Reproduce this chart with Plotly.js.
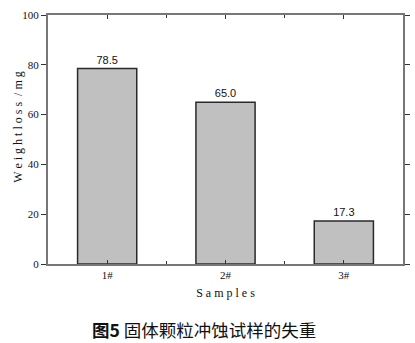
<!DOCTYPE html>
<html><head><meta charset="utf-8">
<script src="https://cdn.plot.ly/plotly-3.0.1.min.js"></script>
<style>body{margin:0;background:#fff}#c{width:415px;height:343px}</style>
</head><body><div id="c"></div>
<script>
const categories = ["1#", "2#", "3#"];
const weightLoss = [78.5, 65.0, 17.3];
const labels = ["78.5", "65.0", "17.3"];
const yTicks = [0, 20, 40, 60, 80, 100];

const xs = categories.map((c, i) => i);
const serif = "Liberation Serif, DejaVu Serif, serif";

const trace = {
  type: "bar", x: xs, y: weightLoss, width: 0.5,
  marker: {color: "#c0c0c0", line: {color: "#2a2a2a", width: 1.5}},
  text: labels, textposition: "outside", cliponaxis: false,
  textfont: {family: "Liberation Sans, Arial, sans-serif", size: 11, color: "#111"},
  hoverinfo: "none"
};

const layout = {
  width: 415, height: 343,
  margin: {l: 48, r: 12, t: 15, b: 79},
  paper_bgcolor: "#fff", plot_bgcolor: "#fff",
  showlegend: false,
  xaxis: {
    range: [-0.5, 2.5], tickvals: xs, ticktext: categories,
    ticks: "inside", ticklen: 4, tickcolor: "#333", tickwidth: 1,
    minor: {tickvals: [0.5, 1.5], ticks: "inside", ticklen: 3, tickcolor: "#333"},
    showline: true, linecolor: "#777", linewidth: 2, mirror: "ticks",
    showgrid: false, zeroline: false,
    tickfont: {family: serif, size: 11, color: "#111"},
    title: {text: "S a m p l e s", font: {family: serif, size: 12, color: "#111"}, standoff: 8}
  },
  yaxis: {
    range: [0, 100], tickvals: yTicks, ticks: "outside", ticklen: 5, tickcolor: "#333",
    showline: true, linecolor: "#777", linewidth: 2, mirror: "ticks",
    showgrid: false, zeroline: false,
    tickfont: {family: serif, size: 11, color: "#111"}
  },
  annotations: [{
    text: "W e i g h t l o s s  / m g", textangle: -90,
    xref: "paper", yref: "paper", x: -0.087, y: 0.548, xanchor: "center", yanchor: "middle",
    showarrow: false, font: {family: serif, size: 12, color: "#111"}
  }, {
    text: "<b>图5</b> 固体颗粒冲蚀试样的失重",
    xref: "paper", yref: "paper", x: 0.44, y: -0.265, xanchor: "center", yanchor: "middle",
    showarrow: false, font: {family: "Noto Sans CJK SC", size: 17.5, color: "#111"}
  }]
};

Plotly.newPlot("c", [trace], layout, {staticPlot: true, displayModeBar: false});
</script></body></html>
